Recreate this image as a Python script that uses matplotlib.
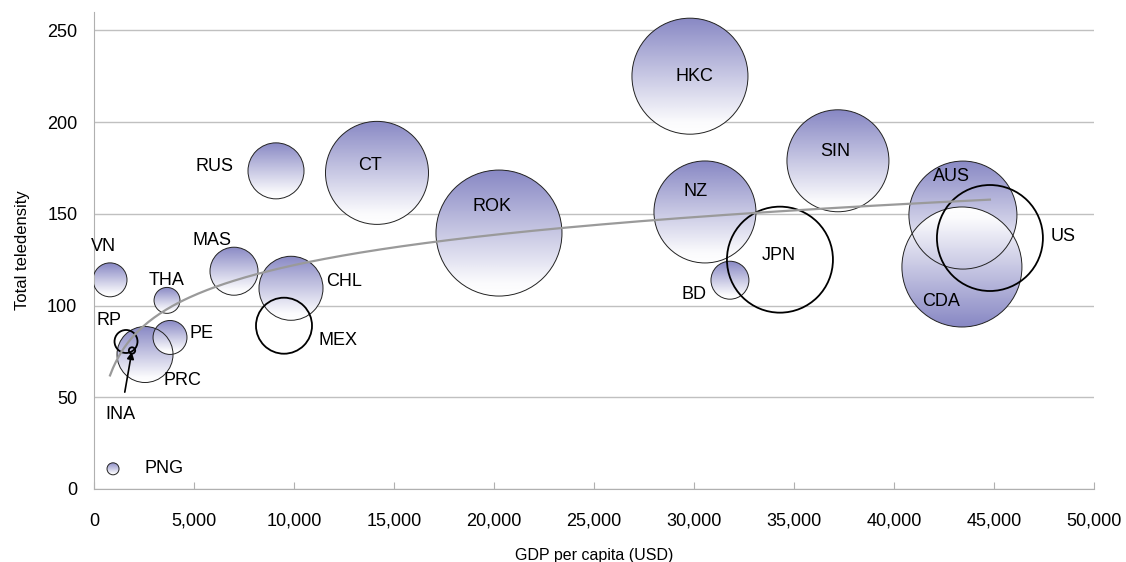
import numpy as np
import matplotlib
matplotlib.use("Agg")
import matplotlib.pyplot as plt
from matplotlib.patches import Circle
from matplotlib.image import AxesImage
from matplotlib.transforms import ScaledTranslation
from matplotlib.colors import LinearSegmentedColormap

plt.rcParams["font.family"] = ["Liberation Sans", "DejaVu Sans"]

# Economies, GDP per capita (USD), total teledensity and bubble size
economies = ["PNG", "VN", "RP", "INA", "PRC", "THA", "PE", "MAS", "RUS",
             "MEX", "CHL", "CT", "ROK", "HKC", "NZ", "BD", "JPN", "SIN",
             "AUS", "CDA", "US"]
gdp = [950, 800, 1600, 1900, 2550, 3650, 3800, 7000, 9100,
       9500, 9850, 14150, 20250, 29800, 30550, 31800, 34300, 37200,
       43450, 43400, 44800]
teledensity = [11, 114, 80.4, 75.5, 73.3, 102.8, 82.6, 118.7, 173.4,
               89, 109.4, 172.3, 139.5, 225, 151, 113.8, 125, 178.9,
               149.3, 121, 136.8]
sizes = [0.9, 7.2, 3.3, 0.25, 19.6, 4.2, 7.2, 14.4, 19.6,
         19.6, 25.6, 66.3, 99.2, 84.1, 65, 9, 70.2, 65,
         72.9, 90, 70.2]
# "fill", "fill_rev" (gradient flipped) or "open" (outline only)
styles = ["fill", "fill", "open", "open", "fill", "fill", "fill", "fill",
          "fill", "open", "fill", "fill", "fill", "fill", "fill", "fill",
          "open", "fill", "fill", "fill_rev", "open"]

# label offsets from bubble centre, in points, plus horizontal alignment
label_pos = {
    "PNG": (23, 0, "left"), "VN": (-5, 24, "center"), "RP": (-12, 15, "center"),
    "INA": (-8, -46, "center"), "PRC": (27, -19, "center"),
    "THA": (0, 14, "center"), "PE": (23, 3, "center"), "MAS": (-16, 22, "center"),
    "RUS": (-44, 3, "center"), "MEX": (39, -11, "center"), "CHL": (38, 5, "center"),
    "CT": (-5, 5, "center"), "ROK": (-5, 19, "center"), "HKC": (3, 0, "center"),
    "NZ": (-7, 15, "center"), "BD": (-26, -10, "center"), "JPN": (-1, 3, "center"),
    "SIN": (-2, 7, "center"), "AUS": (-8, 28, "center"), "CDA": (-15, -25, "center"),
    "US": (53, 1, "center"),
}

purple = "#8888c4"
cmap = LinearSegmentedColormap.from_list(
    "bubble", [(0.0, "#ffffff"), (0.1, "#fbfbfd"), (1.0, purple)])

fig = plt.figure(figsize=(11.26, 5.62), dpi=100)
ax = fig.add_axes([0.0835, 0.1299, 0.888, 0.8488])

max_size = max(sizes)
max_radius = 0.63  # inches for the largest bubble
grad = np.linspace(1, 0, 256).reshape(-1, 1)

order = sorted(range(len(economies)), key=lambda i: styles[i] == "open")
for i in order:
    r = max_radius * np.sqrt(sizes[i] / max_size)
    trans = fig.dpi_scale_trans + ScaledTranslation(gdp[i], teledensity[i],
                                                    ax.transData)
    if styles[i] == "open":
        circ = Circle((0, 0), r, transform=trans, facecolor="none",
                      edgecolor="black", linewidth=1.3, zorder=4)
        ax.add_patch(circ)
        continue
    circ = Circle((0, 0), r, transform=trans, facecolor="none",
                  edgecolor="#222222", linewidth=0.7, zorder=3)
    ax.add_patch(circ)
    data = grad if styles[i] == "fill" else grad[::-1]
    im = AxesImage(ax, cmap=cmap, interpolation="bilinear",
                   extent=(-r, r, -r, r), transform=trans, zorder=2)
    im.set_data(data)
    im.set_clim(0, 1)
    im.set_clip_path(circ)
    ax.add_image(im)

# Logarithmic trend line
coef = np.polyfit(np.log(gdp), teledensity, 1)
xs = np.linspace(min(gdp), max(gdp), 300)
ax.plot(xs, coef[1] + coef[0] * np.log(xs), color="#9a9a9a", lw=1.6, zorder=5)

for i, name in enumerate(economies):
    dx, dy, ha = label_pos[name]
    if name == "INA":
        ax.annotate(name, xy=(gdp[i], teledensity[i]), xytext=(dx, dy),
                    textcoords="offset points", ha=ha, va="center",
                    fontsize=13, zorder=6,
                    arrowprops=dict(arrowstyle="-|>", color="black", lw=1.2,
                                    shrinkA=8, shrinkB=1, mutation_scale=10))
    else:
        ax.annotate(name, xy=(gdp[i], teledensity[i]), xytext=(dx, dy),
                    textcoords="offset points", ha=ha, va="center",
                    fontsize=13, zorder=6)

ax.set_xlim(0, 50000)
ax.set_ylim(0, 260)
ax.set_xticks(range(0, 50001, 5000))
ax.set_xticklabels(["{:,}".format(v) for v in range(0, 50001, 5000)])
ax.set_yticks(range(0, 251, 50))
ax.yaxis.grid(True, color="#c0c0c0", lw=1)
ax.set_axisbelow(True)
for side in ["top", "right"]:
    ax.spines[side].set_visible(False)
for side in ["left", "bottom"]:
    ax.spines[side].set_color("#b0b0b0")
ax.tick_params(axis="x", direction="in", length=5, color="#b0b0b0",
               labelsize=13, pad=17)
ax.tick_params(axis="y", length=0, labelsize=13, pad=12)
ax.set_xlabel("GDP per capita (USD)", fontsize=11.5, labelpad=13)
ax.set_ylabel("Total teledensity", fontsize=12, labelpad=12)

fig.savefig("out.png", dpi=100)
